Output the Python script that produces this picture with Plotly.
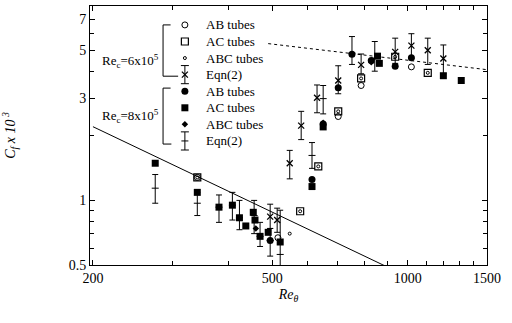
import math
import plotly.graph_objects as go

# ---------------- data ----------------
# Rec = 6x10^5 (open symbols)
ab6_re = [341, 515, 701, 788, 1019]
ab6_cf = [1.28, 0.67, 2.46, 3.43, 4.19]

ac6_re = [341, 577, 633, 701, 788, 938, 1108]
ac6_cf = [1.28, 0.89, 1.44, 2.60, 3.70, 4.67, 3.93]

abc6_re = [341, 547, 577, 633, 701, 788, 938, 1108]
abc6_cf = [1.28, 0.70, 0.89, 1.44, 2.60, 3.70, 4.67, 3.93]

eq6_re = [495, 513, 547, 580, 629, 701, 788, 938, 1019, 1108, 1200]
eq6_cf = [0.84, 0.81, 1.49, 2.23, 3.01, 3.62, 4.28, 4.92, 5.26, 5.01, 4.58]
eq6_hi = [0.96, 0.92, 1.71, 2.60, 3.45, 4.24, 4.81, 5.70, 5.98, 5.70, 5.30]
eq6_lo = [0.74, 0.71, 1.26, 1.92, 2.56, 3.14, 3.89, 4.35, 4.58, 4.30, 3.89]

# Rec = 8x10^5 (filled symbols)
ab8_re = [495, 613, 649, 701, 752, 830, 938, 1019]
ab8_cf = [0.65, 1.25, 2.27, 3.35, 4.80, 4.48, 4.22, 4.62]

ac8_re = [275, 341, 381, 408, 423, 437, 454, 458, 470, 490, 521, 613, 649, 857, 865, 1200, 1315]
ac8_cf = [1.49, 1.09, 0.93, 0.95, 0.83, 0.76, 0.88, 0.81, 0.68, 0.71, 0.64, 1.16, 2.20, 4.70, 4.35, 3.81, 3.62]

abc8_re = [460, 649, 830]
abc8_cf = [0.74, 2.30, 4.40]

eq8_re = [275, 341, 381, 408, 423, 456, 470, 495, 521, 613, 649, 752, 845]
eq8_cf = [1.14, 0.97, 0.93, 0.95, 0.83, 0.85, 0.68, 0.65, 0.56, 1.62, 2.98, 4.85, 4.60]
eq8_hi = [1.32, 1.09, 1.06, 1.09, 1.00, 1.00, 0.79, 0.74, 0.90, 1.86, 3.43, 5.80, 5.50]
eq8_lo = [0.97, 0.85, 0.79, 0.81, 0.73, 0.70, 0.61, 0.55, 0.48, 1.41, 2.53, 4.30, 4.00]

# reference correlations
lam_re = [200, 1500]
lam_cf = [441.0 / r for r in lam_re]          # laminar: Cf = 0.441 / Re_theta
turb_re = [490, 1500]
turb_cf = [25.3 * r ** -0.25 for r in turb_re]  # turbulent correlation

x_tickvals = [200, 500, 1000, 1500]
x_ticktext = ["200", "500", "1000", "1500"]
x_minor = [300, 400, 600, 700, 800, 900, 1100, 1200, 1300, 1400]
y_tickvals = [0.5, 1, 3, 5, 7]
y_ticktext = ["0.5", "1", "3", "5", "7"]
y_minor = [0.6, 0.7, 0.8, 0.9, 2, 4, 6, 8]

legend_labels = ["AB tubes", "AC tubes", "ABC tubes", "Eqn(2)",
                 "AB tubes", "AC tubes", "ABC tubes", "Eqn(2)"]

FONT = "Liberation Serif"
BLK = "black"
XR = [math.log10(197), math.log10(1500)]
YR = [math.log10(0.5), math.log10(8.05)]


def fx(f):  # paper fraction -> data x on log axis
    return 10 ** (XR[0] + f * (XR[1] - XR[0]))


def fy(f):  # paper fraction -> data y on log axis
    return 10 ** (YR[0] + f * (YR[1] - YR[0]))


fig = go.Figure()

fig.add_trace(go.Scatter(x=lam_re, y=lam_cf, mode="lines",
                         line=dict(color=BLK, width=1), showlegend=False))
fig.add_trace(go.Scatter(x=turb_re, y=turb_cf, mode="lines",
                         line=dict(color=BLK, width=1, dash="dot"), showlegend=False))


def err(cf, hi, lo):
    return dict(type="data", symmetric=False,
                array=[h - c for h, c in zip(hi, cf)],
                arrayminus=[c - l for c, l in zip(cf, lo)],
                color=BLK, thickness=1, width=3)


styles = {
    "ab6": dict(symbol="circle-open", size=6, line=dict(color=BLK, width=1), color=BLK),
    "ac6": dict(symbol="square-open", size=7, line=dict(color=BLK, width=1.2), color=BLK),
    "abc6": dict(symbol="circle-open", size=3, line=dict(color=BLK, width=1), color=BLK),
    "eq6": dict(symbol="x-thin-open", size=6, line=dict(color=BLK, width=1.3), color=BLK),
    "ab8": dict(symbol="circle", size=7, color=BLK, line=dict(width=0)),
    "ac8": dict(symbol="square", size=7, color=BLK, line=dict(width=0)),
    "abc8": dict(symbol="diamond", size=5, color=BLK, line=dict(width=0)),
    "eq8": dict(symbol="line-ew-open", size=5, line=dict(color=BLK, width=1), color=BLK),
}

fig.add_trace(go.Scatter(x=eq6_re, y=eq6_cf, mode="markers", marker=styles["eq6"],
                         error_y=err(eq6_cf, eq6_hi, eq6_lo), showlegend=False))
fig.add_trace(go.Scatter(x=eq8_re, y=eq8_cf, mode="markers", marker=styles["eq8"],
                         error_y=err(eq8_cf, eq8_hi, eq8_lo), showlegend=False))
for xs, ys, key in [(ab8_re, ab8_cf, "ab8"), (ac8_re, ac8_cf, "ac8"), (abc8_re, abc8_cf, "abc8"),
                    (ab6_re, ab6_cf, "ab6"), (ac6_re, ac6_cf, "ac6"), (abc6_re, abc6_cf, "abc6")]:
    fig.add_trace(go.Scatter(x=xs, y=ys, mode="markers", marker=styles[key], showlegend=False))

# ---------------- custom legend ----------------
leg_keys = ["ab6", "ac6", "abc6", "eq6", "ab8", "ac8", "abc8", "eq8"]
leg_top, leg_step = 0.927, 0.064
leg_y = [leg_top - i * leg_step for i in range(8)]
leg_x = 0.239
for key, y in zip(leg_keys, leg_y):
    e = None
    if key.startswith("eq"):
        e = dict(type="data", symmetric=False, array=[fy(y + 0.035) - fy(y)],
                 arrayminus=[fy(y) - fy(y - 0.035)], color=BLK, thickness=1, width=4)
    fig.add_trace(go.Scatter(x=[fx(leg_x)], y=[fy(y)], mode="markers",
                             marker=styles[key], error_y=e, showlegend=False,
                             hoverinfo="skip"))
for lab, y in zip(legend_labels, leg_y):
    fig.add_annotation(x=0.287, y=y, xref="paper", yref="paper", text=lab,
                       showarrow=False, xanchor="left", yanchor="middle",
                       font=dict(family=FONT, size=13, color=BLK))


def bracket(y0, y1, xt0, xb1):
    xv = 0.184
    for (xa, ya, xb, yb) in [(xv, y0, xv, y1), (xv, y0, xt0, y0), (xv, y1, xb1, y1)]:
        fig.add_shape(type="line", xref="paper", yref="paper", x0=xa, y0=ya, x1=xb, y1=yb,
                      line=dict(color=BLK, width=1))


bracket(leg_y[0], leg_y[3] - 0.006, 0.203, 0.222)
bracket(leg_y[4] + 0.012, leg_y[7] - 0.012, 0.203, 0.205)
fig.add_annotation(x=0.178, y=(leg_y[1] + leg_y[2]) / 2, xref="paper", yref="paper",
                   text="Re<sub>c</sub>=6x10<sup>5</sup>", showarrow=False, xanchor="right",
                   font=dict(family=FONT, size=13, color=BLK))
fig.add_annotation(x=0.178, y=(leg_y[5] + leg_y[6]) / 2, xref="paper", yref="paper",
                   text="Re<sub>c</sub>=8x10<sup>5</sup>", showarrow=False, xanchor="right",
                   font=dict(family=FONT, size=13, color=BLK))

axis_common = dict(showline=True, linecolor=BLK, linewidth=1, mirror="allticks",
                   ticks="inside", ticklen=5, tickcolor=BLK, showgrid=False, zeroline=False,
                   tickfont=dict(family=FONT, size=14, color=BLK))

fig.update_layout(
    width=512, height=323, margin=dict(l=90, r=25, t=6, b=58),
    paper_bgcolor="white", plot_bgcolor="white", showlegend=False,
    xaxis=dict(type="log", range=XR, tickmode="array", tickvals=x_tickvals,
               ticktext=x_ticktext,
               minor=dict(tickmode="array", tickvals=x_minor, ticks="inside", ticklen=4,
                          tickcolor=BLK, showgrid=False),
               title=dict(text="<i>Re<sub>θ</sub></i>", font=dict(family=FONT, size=14, color=BLK),
                          standoff=4),
               **axis_common),
    yaxis=dict(type="log", range=YR, tickmode="array", tickvals=y_tickvals,
               ticktext=y_ticktext,
               minor=dict(tickmode="array", tickvals=y_minor, ticks="inside", ticklen=4,
                          tickcolor=BLK, showgrid=False),
               title=dict(text="<i>C<sub>f</sub> x 10<sup> 3</sup></i>",
                          font=dict(family=FONT, size=14, color=BLK), standoff=50),
               **axis_common),
)

fig.write_html("out.html")
